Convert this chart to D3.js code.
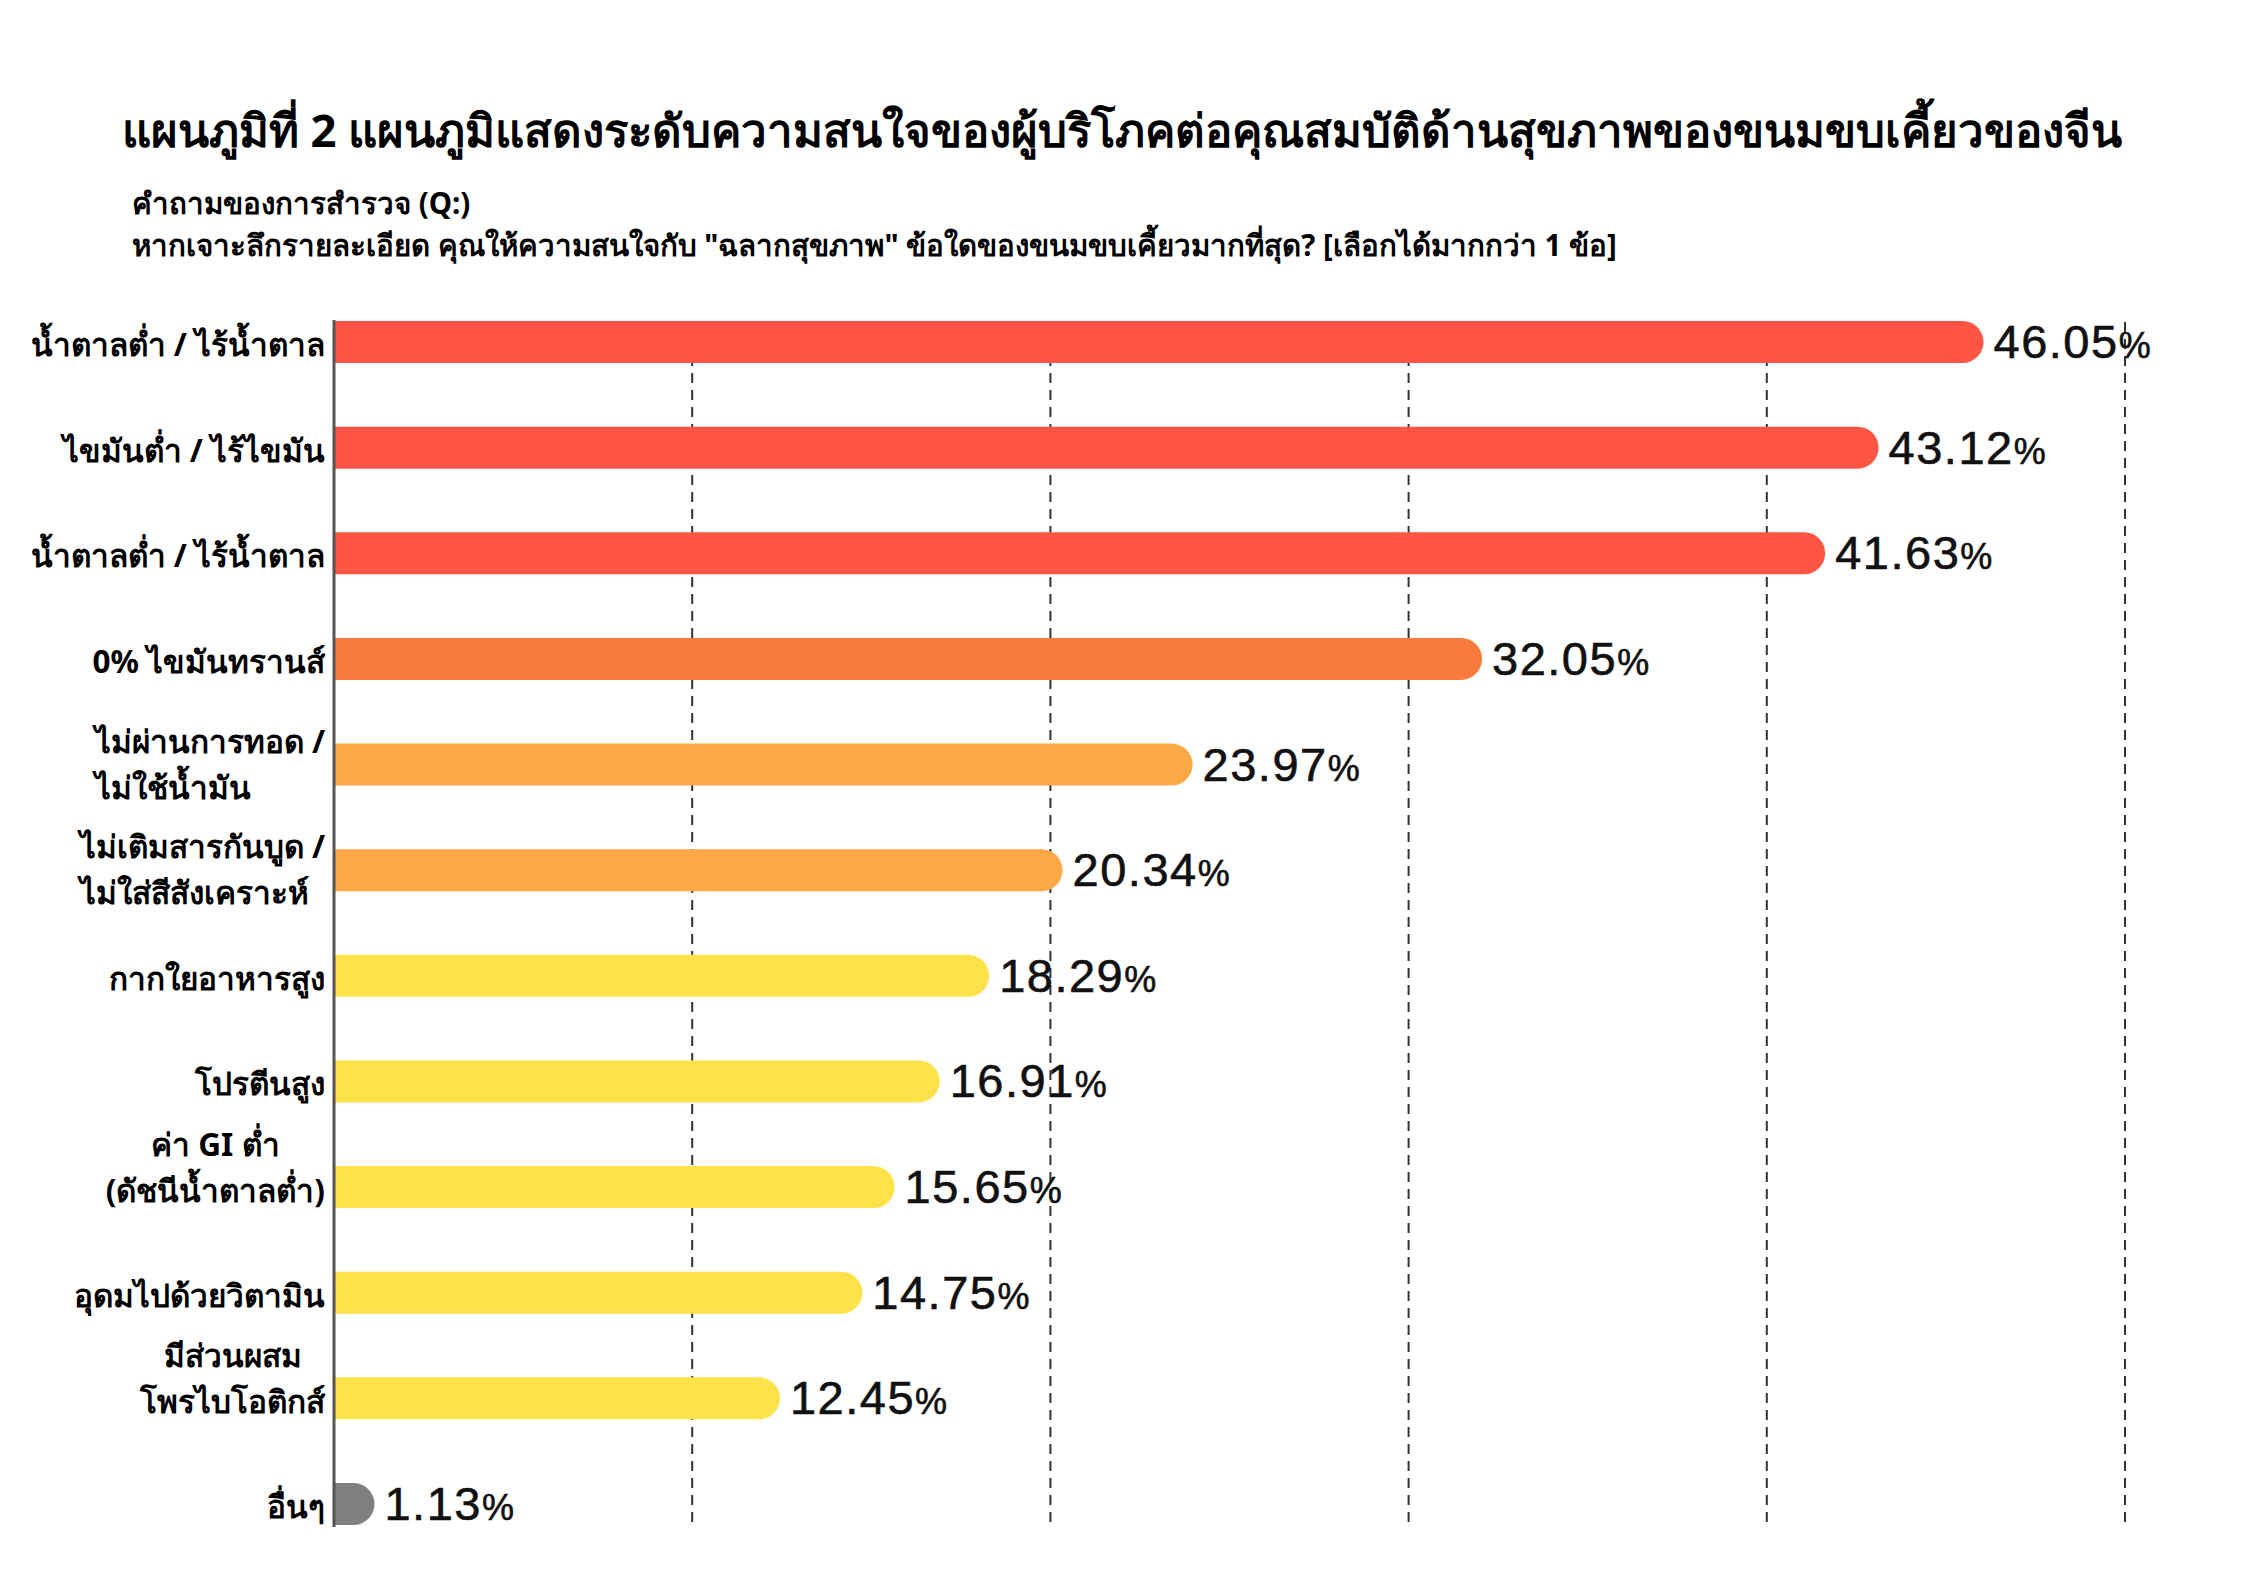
<!DOCTYPE html>
<html>
<head>
<meta charset="utf-8">
<script src="https://cdn.jsdelivr.net/npm/d3@7"></script>
<style>
  body { margin: 0; background: #fff; }
  svg text { font-family: "Noto Sans", "DejaVu Sans", sans-serif; }
  .val { font-family: "Liberation Sans", Arial, sans-serif !important; }
</style>
</head>
<body>
<div id="chart"></div>
<script>
// survey answers, top to bottom
const labels = [
  "น้ำตาลต่ำ / ไร้น้ำตาล",
  "ไขมันต่ำ / ไร้ไขมัน",
  "น้ำตาลต่ำ / ไร้น้ำตาล",
  "0% ไขมันทรานส์",
  "ไม่ผ่านการทอด /|ไม่ใช้น้ำมัน",
  "ไม่เติมสารกันบูด /|ไม่ใส่สีสังเคราะห์",
  "กากใยอาหารสูง",
  "โปรตีนสูง",
  "ค่า GI ต่ำ|(ดัชนีน้ำตาลต่ำ)",
  "อุดมไปด้วยวิตามิน",
  "มีส่วนผสม|โพรไบโอติกส์",
  "อื่นๆ"
];
const values = [46.05, 43.12, 41.63, 32.05, 23.97, 20.34, 18.29, 16.91, 15.65, 14.75, 12.45, 1.13];
const gridTicks = [10, 20, 30, 40, 50];

const title = "แผนภูมิที่ 2 แผนภูมิแสดงระดับความสนใจของผู้บริโภคต่อคุณสมบัติด้านสุขภาพของขนมขบเคี้ยวของจีน";
const question = "คำถามของการสำรวจ (Q:)";
const questionText = "หากเจาะลึกรายละเอียด คุณให้ความสนใจกับ \"ฉลากสุขภาพ\" ข้อใดของขนมขบเคี้ยวมากที่สุด? [เลือกได้มากกว่า 1 ข้อ]";

const width = 2245, height = 1587;

const svg = d3.select("#chart")
  .append("svg")
  .attr("width", width)
  .attr("height", height)
  .attr("viewBox", [0, 0, width, height]);

const x = d3.scaleLinear().domain([0, 50]).range([334, 2125]);
const y = d3.scalePoint().domain(d3.range(values.length)).range([342, 1504]);
const barH = 42;

// colour by value band
const color = d3.scaleThreshold()
  .domain([2, 20, 30, 40])
  .range(["#808080", "#ffe14a", "#fba946", "#fa7b3b", "#ff5545"]);

// title + question
svg.append("text")
  .attr("x", 1122).attr("y", 147)
  .attr("text-anchor", "middle")
  .attr("font-size", 45.5).attr("font-weight", "bold")
  .text(title);

svg.append("text")
  .attr("x", 132).attr("y", 214)
  .attr("font-size", 29.5).attr("font-weight", "bold")
  .text(question);

svg.append("text")
  .attr("x", 132).attr("y", 256)
  .attr("font-size", 29.5).attr("font-weight", "bold")
  .text(questionText);

// dashed grid
svg.append("g")
  .selectAll("line")
  .data(gridTicks)
  .join("line")
  .attr("x1", d => x(d)).attr("x2", d => x(d))
  .attr("y1", 322).attr("y2", 1525)
  .attr("stroke", "#333")
  .attr("stroke-width", 2)
  .attr("stroke-dasharray", "10,7");

// bars: flat left, round right
svg.append("g")
  .selectAll("path")
  .data(values)
  .join("path")
  .attr("fill", d => color(d))
  .attr("d", (d, i) => {
    const x0 = x(0), x1 = x(d), r = barH / 2;
    const yc = y(i), t = yc - r, b = yc + r;
    const p = d3.path();
    p.moveTo(x0, t);
    p.lineTo(Math.max(x0, x1 - r), t);
    p.arc(Math.max(x0, x1 - r), yc, r, -Math.PI / 2, Math.PI / 2);
    p.lineTo(x0, b);
    p.closePath();
    return p.toString();
  });

// axis line
svg.append("line")
  .attr("x1", x(0)).attr("x2", x(0))
  .attr("y1", 320).attr("y2", 1527)
  .attr("stroke", "#555")
  .attr("stroke-width", 3);

// value labels
const vl = svg.append("g")
  .selectAll("text")
  .data(values)
  .join("text")
  .attr("class", "val")
  .attr("x", d => x(d) + 10)
  .attr("y", (d, i) => y(i) + 16)
  .attr("font-size", 47)
  .attr("letter-spacing", 1.5)
  .attr("fill", "#111")
  .attr("stroke", "#111")
  .attr("stroke-width", 0.6);
vl.append("tspan").text(d => d.toFixed(2));
vl.append("tspan").attr("font-size", 36).text("%");

// category labels
const right = 325;
const lg = svg.append("g")
  .selectAll("text")
  .data(labels)
  .join("text")
  .attr("font-size", 31.5)
  .attr("font-weight", "bold")
  .attr("fill", "#000");

lg.each(function (d, i) {
  const lines = d.split("|");
  const t = d3.select(this);
  if (lines.length === 1) {
    t.attr("x", right).attr("y", y(i) + 14).attr("text-anchor", "end").text(d);
    return;
  }
  // two-line: "/" ones left aligned, others centred
  const slash = lines[0].trim().endsWith("/");
  lines.forEach((ln, k) => {
    t.append("tspan")
      .attr("y", slash ? y(i) - 12 + k * 46 : y(i) - 31 + k * 46)
      .text(ln);
  });
  const tsp = t.selectAll("tspan").nodes();
  const ws = tsp.map(n => n.getComputedTextLength());
  const wmax = d3.max(ws);
  tsp.forEach((n, k) => {
    d3.select(n).attr("x", slash ? right - ws[0] : right - wmax + (wmax - ws[k]) / 2);
  });
});
</script>
</body>
</html>
